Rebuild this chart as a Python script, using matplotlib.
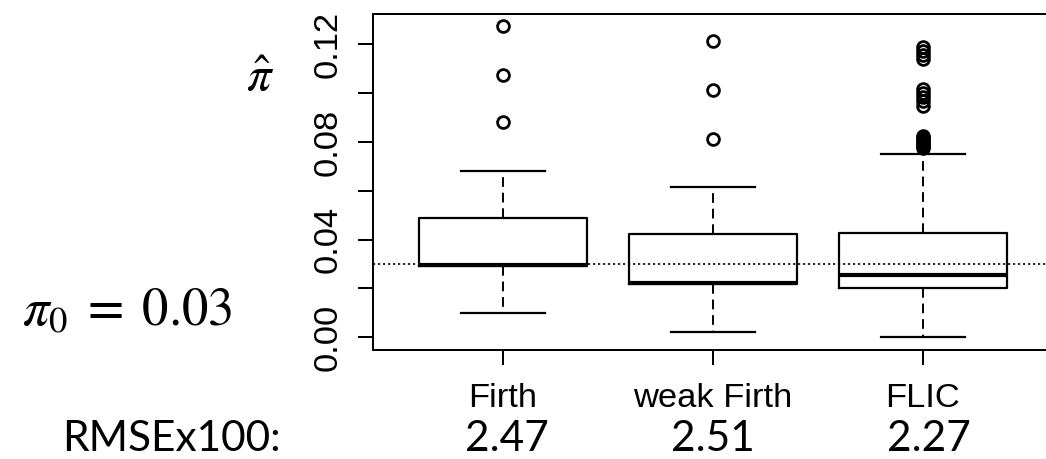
import matplotlib.pyplot as plt
import matplotlib.transforms as mtransforms

methods = ['Firth', 'weak Firth', 'FLIC']
rmse_x100 = ['2.47', '2.51', '2.27']
pi0 = 0.03

# five-number summaries of the estimated probabilities
whislo = [0.0098, 0.0023, 0.0002]
q1 = [0.0292, 0.0218, 0.0202]
med = [0.0297, 0.0221, 0.0256]
q3 = [0.0490, 0.0422, 0.0428]
whishi = [0.0682, 0.0614, 0.0752]
fliers = [
    [0.0882, 0.1074, 0.1275],
    [0.0813, 0.1013, 0.1212],
    [0.0775, 0.0783, 0.0791, 0.0800, 0.0808, 0.0816, 0.0826,
     0.0947, 0.0968, 0.0984, 0.1000, 0.1017,
     0.1140, 0.1156, 0.1173, 0.1189],
]

plt.rcParams['font.family'] = ['Liberation Sans', 'DejaVu Sans']
plt.rcParams['mathtext.fontset'] = 'stix'

W, H = 1046, 459
fig = plt.figure(figsize=(W / 100, H / 100), dpi=100)
ax = fig.add_axes([372.7 / W, 109 / H, 680 / W, 335.7 / H])

stats = []
for i in range(len(methods)):
    stats.append(dict(label=methods[i], med=med[i], q1=q1[i], q3=q3[i],
                      whislo=whislo[i], whishi=whishi[i], fliers=fliers[i]))

pos = [1, 2, 3]
ax.axhline(pi0, color='black', lw=1.2, linestyle=(0, (1.3, 1.7)), zorder=1)
ax.bxp(stats, positions=pos, widths=0.8, capwidths=0.4,
       boxprops=dict(color='black', linewidth=1.6),
       whiskerprops=dict(color='black', linewidth=1.4, linestyle=(0, (5, 3))),
       capprops=dict(color='black', linewidth=1.6),
       medianprops=dict(color='black', linewidth=3.0, solid_capstyle='butt'),
       flierprops=dict(marker='o', markerfacecolor='none', markeredgecolor='black',
                       markersize=8.5, markeredgewidth=2.0))

ax.set_xlim(0.38, 3.62)
ax.set_ylim(-0.0052, 0.1323)
yt = [0.0, 0.02, 0.04, 0.06, 0.08, 0.10, 0.12]
ax.set_yticks(yt, ['0.00', '', '0.04', '', '0.08', '', '0.12'])
ax.set_xticks(pos, methods)
ax.tick_params(length=10.8, width=1.44, pad=9.8, labelsize=24.8, color='black')
ax.tick_params(axis='x', pad=13)
for lab in ax.get_yticklabels():
    lab.set_rotation(90)
    lab.set_va('center')
for sp in ax.spines.values():
    sp.set_linewidth(1.44)

fig.text(260 / W, 1 - 78 / H, r'$\hat{\pi}$', fontsize=35, ha='center', va='center')
fig.text(21.7 / W, (H - 325) / H, r'$\pi_0 \;=\; %g$' % pi0, fontsize=38,
         ha='left', va='baseline')

fig.text(61.7 / W, 0.002, 'RMSEx100:', family='Lato', fontsize=30.5,
         ha='left', va='bottom')
trans = mtransforms.blended_transform_factory(ax.transData, fig.transFigure)
for x, v in zip([1.02, 2.0, 3.03], rmse_x100):
    ax.text(x, 0.002, v, transform=trans, family='Lato', fontsize=30.5,
            ha='center', va='bottom', clip_on=False)

fig.savefig('out.png', dpi=100)
